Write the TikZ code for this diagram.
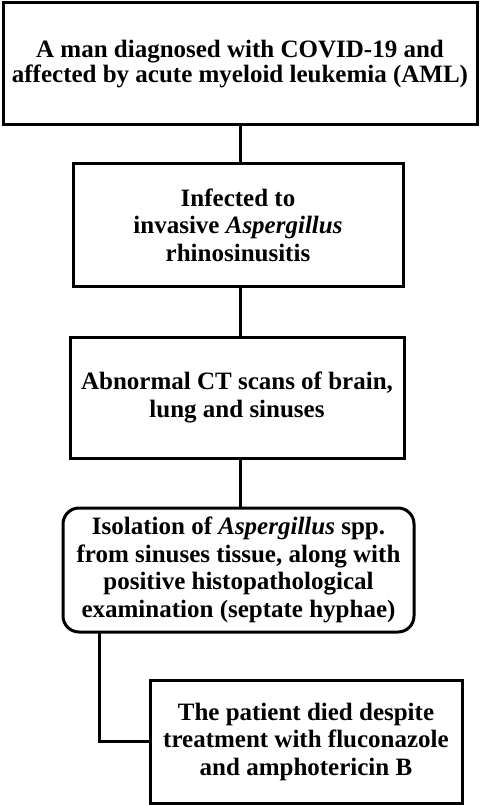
\documentclass[tikz,border=0pt]{standalone}
\usepackage{fontspec}
\setmainfont{Liberation Serif}
\begin{document}
\begin{tikzpicture}[x=1pt,y=-1pt,
  box/.style={draw=black, line width=3pt, align=center, inner sep=0pt,
    font=\fontsize{25}{27.5}\selectfont\bfseries},
  rbox/.style={box, rounded corners=16pt},
  link/.style={draw=black, line width=3pt}]
\useasboundingbox (0,0) rectangle (480,805);
\node[box, minimum width=474pt, minimum height=122pt,
  font=\fontsize{25}{25.5}\selectfont\bfseries] (b1) at (240,64)
  {A man diagnosed with COVID-19 and\\affected by acute myeloid leukemia (AML)};
\node[box, minimum width=330pt, minimum height=122pt] (b2) at (238,225)
  {Infected to\\invasive \textit{Aspergillus}\\rhinosinusitis};
\node[box, minimum width=334pt, minimum height=121pt] (b3) at (237,397.5)
  {Abnormal CT scans of brain,\\lung and sinuses};
\node[rbox, minimum width=351pt, minimum height=124pt] (b4) at (238.5,570)
  {Isolation of \textit{Aspergillus} spp.\\from sinuses tissue, along with\\positive histopathological\\examination (septate hyphae)};
\node[box, minimum width=312pt, minimum height=123pt] (b5) at (306,741.5)
  {The patient died despite\\treatment with fluconazole\\and amphotericin B};
\coordinate (k) at (99,632);
\draw[link] (b1.south) -- (b1.south |- b2.north);
\draw[link] (b1.south |- b2.south) -- (b1.south |- b3.north);
\draw[link] (b1.south |- b3.south) -- (b1.south |- b4.north);
\draw[link] (k) |- (b5.west);
\end{tikzpicture}
\end{document}
